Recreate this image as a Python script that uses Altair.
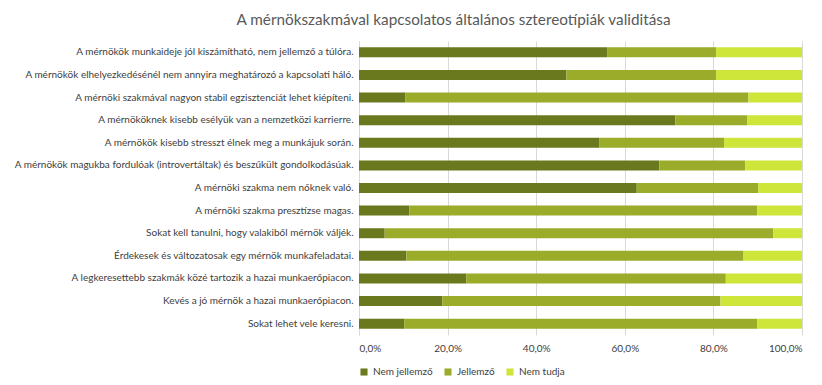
import altair as alt
import pandas as pd

categories = [
    "A mérnökök munkaideje jól kiszámítható, nem jellemző a túlóra.",
    "A mérnökök elhelyezkedésénél nem annyira meghatározó a kapcsolati háló.",
    "A mérnöki szakmával nagyon stabil egzisztenciát lehet kiépíteni.",
    "A mérnököknek kisebb esélyük van a nemzetközi karrierre.",
    "A mérnökök kisebb stresszt élnek meg a munkájuk során.",
    "A mérnökök magukba fordulóak (introvertáltak) és beszűkült gondolkodásúak.",
    "A mérnöki szakma nem nőknek való.",
    "A mérnöki szakma presztízse magas.",
    "Sokat kell tanulni, hogy valakiből mérnök váljék.",
    "Érdekesek és változatosak egy mérnök munkafeladatai.",
    "A legkeresettebb szakmák közé tartozik a hazai munkaerőpiacon.",
    "Kevés a jó mérnök a hazai munkaerőpiacon.",
    "Sokat lehet vele keresni.",
]
series = ["Nem jellemző", "Jellemző", "Nem tudja"]
nem_jellemzo = [56.0, 46.8, 10.5, 71.4, 54.2, 67.8, 62.7, 11.4, 5.8, 10.7, 24.2, 18.8, 10.2]
jellemzo = [24.6, 33.8, 77.4, 16.3, 28.2, 19.4, 27.4, 78.5, 87.7, 76.1, 58.6, 62.8, 79.7]
nem_tudja = [19.4, 19.4, 12.1, 12.3, 17.6, 12.8, 9.9, 10.1, 6.5, 13.2, 17.2, 18.4, 10.1]
colors = ["#6A781E", "#9BAC2B", "#CEE53A"]

rows = []
for i, c in enumerate(categories):
    for j, (s, vals) in enumerate(zip(series, [nem_jellemzo, jellemzo, nem_tudja])):
        rows.append({"cat": c, "series": s, "value": vals[i] / 100.0, "ord": j})
df = pd.DataFrame(rows)

FONT = "Lato"

chart = alt.Chart(df).mark_bar(size=10).encode(
    y=alt.Y("cat:N", sort=categories, title=None,
            axis=alt.Axis(labelFont=FONT, labelFontSize=10, labelColor="#404040",
                          labelLimit=400, ticks=False, labelPadding=6,
                          domainColor="#D9D9D9", grid=False)),
    x=alt.X("value:Q", stack="zero", title=None,
            scale=alt.Scale(domain=[0, 1], nice=False),
            axis=alt.Axis(values=[0, 0.2, 0.4, 0.6, 0.8, 1.0],
                          labelExpr="replace(format(datum.value, '.1%'), '.', ',')",
                          labelFont=FONT, labelFontSize=10, labelColor="#404040",
                          grid=True, gridColor="#D9D9D9", domain=False, ticks=False,
                          labelPadding=8)),
    color=alt.Color("series:N", sort=series,
                    scale=alt.Scale(domain=series, range=colors),
                    legend=alt.Legend(title=None, orient="none", direction="horizontal",
                                      legendX=0, legendY=326, symbolType="square",
                                      symbolSize=50, labelFont=FONT, labelFontSize=10,
                                      labelColor="#404040", columnPadding=10,
                                      symbolStrokeWidth=0)),
    order=alt.Order("ord:Q"),
).properties(
    width=443,
    height=294,
    title=alt.TitleParams("A mérnökszakmával kapcsolatos általános sztereotípiák validitása",
                          font=FONT, fontSize=15.3, fontWeight="normal", color="#595959",
                          anchor="middle", dx=-127, offset=13),
    autosize=alt.AutoSizeParams(type="none"),
    padding={"left": 351, "top": 33, "right": 12, "bottom": 50},
).configure_view(stroke=None)

chart.save("out.html", embed_options={"renderer": "svg", "actions": False})
